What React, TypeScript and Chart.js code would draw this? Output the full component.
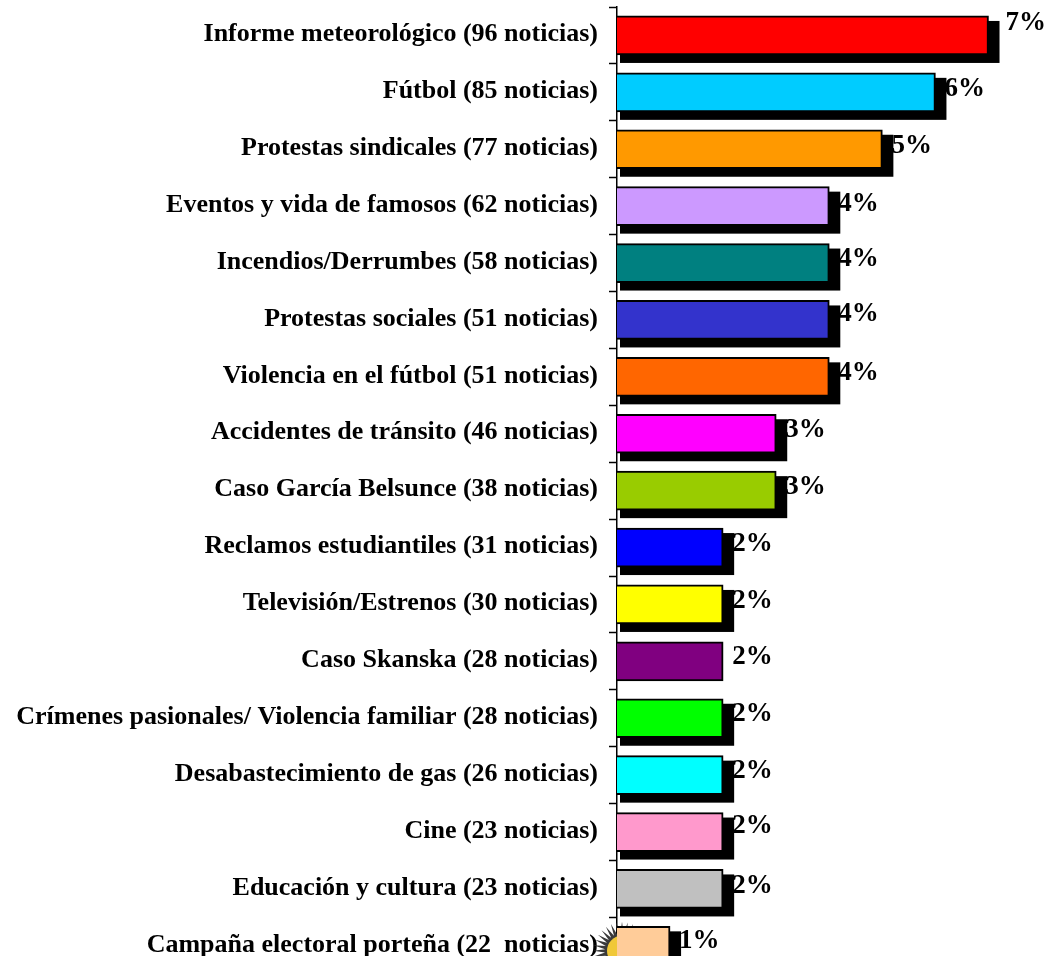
import React, { useEffect, useRef } from "react";
import { Chart, registerables } from "chart.js";

Chart.register(...registerables);

const categories = [
  "Informe meteorológico (96 noticias)",
  "Fútbol (85 noticias)",
  "Protestas sindicales (77 noticias)",
  "Eventos y vida de famosos (62 noticias)",
  "Incendios/Derrumbes (58 noticias)",
  "Protestas sociales (51 noticias)",
  "Violencia en el fútbol (51 noticias)",
  "Accidentes de tránsito (46 noticias)",
  "Caso García Belsunce (38 noticias)",
  "Reclamos estudiantiles (31 noticias)",
  "Televisión/Estrenos (30 noticias)",
  "Caso Skanska (28 noticias)",
  "Crímenes pasionales/ Violencia familiar (28 noticias)",
  "Desabastecimiento de gas (26 noticias)",
  "Cine (23 noticias)",
  "Educación y cultura (23 noticias)",
  "Campaña electoral porteña (22  noticias)",
];
const percentages = [7, 6, 5, 4, 4, 4, 4, 3, 3, 2, 2, 2, 2, 2, 2, 2, 1];
const barColors = [
  "#FF0000", "#00CCFF", "#FF9900", "#CC99FF", "#008080", "#3333CC", "#FF6600", "#FF00FF", "#99CC00",
  "#0000FF", "#FFFF00", "#800080", "#00FF00", "#00FFFF", "#FF99CC", "#C0C0C0", "#FFCC99",
];
const labelShiftY = [-12, -3, -3, -2, -4, -6, -4, -4, -4, -4, -3, -4, -4, -4, -6, -3, -5];
const noShadow = [11];
const FONT = '"Liberation Serif", serif';

const shadowPlugin = {
  id: "barShadow",
  beforeDatasetsDraw(chart: any) {
    const { ctx } = chart;
    const meta = chart.getDatasetMeta(0);
    ctx.save();
    // sun emblem behind the last bar
    const last = meta.data[meta.data.length - 1];
    const cx = last.base + 5;
    const cy = last.y + 5;
    ctx.fillStyle = "#3a3a3a";
    ctx.beginPath();
    for (let i = 0; i < 64; i++) {
      const a = (i / 64) * Math.PI * 2;
      const r = i % 2 === 0 ? 29 : 17;
      const px = cx + Math.cos(a) * r;
      const py = cy + Math.sin(a) * r;
      if (i === 0) ctx.moveTo(px, py);
      else ctx.lineTo(px, py);
    }
    ctx.closePath();
    ctx.fill();
    ctx.fillStyle = "#F0C838";
    ctx.beginPath();
    ctx.arc(cx, cy, 15, 0, Math.PI * 2);
    ctx.fill();
    // block shadows
    ctx.fillStyle = "#000000";
    meta.data.forEach((bar: any, i: number) => {
      if (noShadow.includes(i)) return;
      const top = bar.y - bar.height / 2;
      const bottom = bar.y + bar.height / 2;
      ctx.fillRect(bar.base + 3, top + 5, bar.x - bar.base + 8, bottom - top + 3);
    });
    ctx.restore();
  },
  afterDatasetsDraw(chart: any) {
    const { ctx } = chart;
    const meta = chart.getDatasetMeta(0);
    ctx.save();
    ctx.fillStyle = "#000000";
    ctx.font = `bold 27px ${FONT}`;
    ctx.textAlign = "left";
    ctx.textBaseline = "middle";
    meta.data.forEach((bar: any, i: number) => {
      const dx = i === 0 ? 17 : 9;
      ctx.fillText(`${percentages[i]}%`, bar.x + dx, bar.y + labelShiftY[i]);
    });
    ctx.restore();
  },
};

export default function App() {
  const ref = useRef<HTMLCanvasElement>(null);
  useEffect(() => {
    document.body.style.background = "#ffffff";
    const chart = new Chart(ref.current!, {
      type: "bar",
      data: {
        labels: categories,
        datasets: [
          {
            data: percentages,
            backgroundColor: barColors,
            borderColor: "#000000",
            borderWidth: 2,
            barThickness: 39,
          },
        ],
      },
      options: {
        indexAxis: "y",
        responsive: false,
        animation: false,
        layout: { autoPadding: false, padding: { top: 7, right: 6.4, bottom: 0.7, left: 0 } },
        plugins: { legend: { display: false }, tooltip: { enabled: false } },
        scales: {
          x: { display: false, min: 0, max: 8 },
          y: {
            offset: true,
            afterFit: (s: any) => {
              s.width = 617;
              s.paddingTop = 0;
              s.paddingBottom = 0;
            },
            border: { color: "#000000", width: 1.5 },
            grid: { drawOnChartArea: false, offset: true, tickLength: 8, color: "#000000", tickWidth: 1.5 },
            ticks: {
              autoSkip: false,
              padding: 11,
              labelOffset: -1,
              color: "#000000",
              font: { family: FONT, weight: "bold", size: 26 },
            },
          },
        },
      },
      plugins: [shadowPlugin],
    } as any);
    return () => chart.destroy();
  }, []);
  return (
    <div style={{ position: "absolute", left: 0, top: 0, width: 1048, height: 956, overflow: "hidden", background: "#fff" }}>
      <canvas ref={ref} width={1048} height={975} style={{ display: "block" }} />
    </div>
  );
}
